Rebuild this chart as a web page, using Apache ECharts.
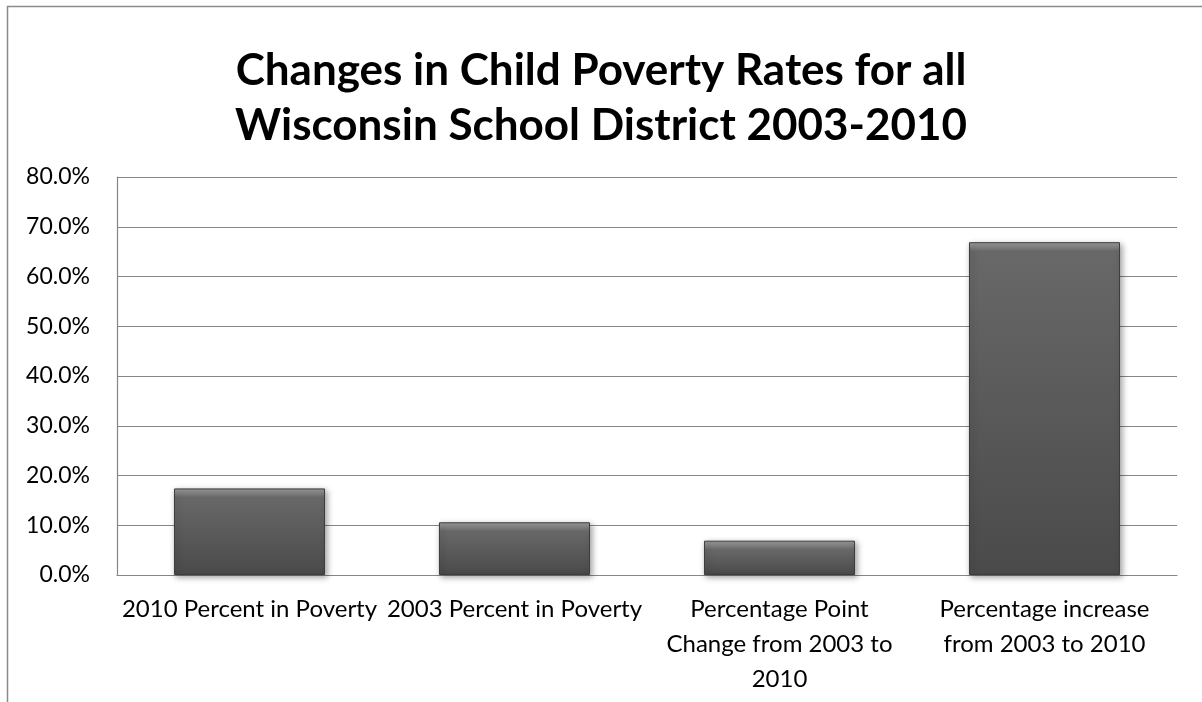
<!DOCTYPE html>
<html>
<head>
<meta charset="utf-8">
<script src="https://cdn.jsdelivr.net/npm/echarts@6/dist/echarts.min.js"></script>
<style>
html,body{margin:0;padding:0;background:#fff;}
#chart{width:1202px;height:702px;}
</style>
</head>
<body>
<div id="chart"></div>
<script>
const titleLines = ["Changes in Child Poverty Rates for all", "Wisconsin School District 2003-2010"];
const categories = [
  "2010 Percent in Poverty",
  "2003 Percent in Poverty",
  "Percentage Point\nChange from 2003 to\n2010",
  "Percentage increase\nfrom 2003 to 2010"
];
const values = [0.174, 0.106, 0.069, 0.669];
const yTicks = { min: 0, max: 0.8, interval: 0.1 };

const plotHeight = 398;
function barStyle(v) {
  const h = v / yTicks.max * plotHeight;
  const f = Math.min(0.5, 9 / h);
  return {
    color: new echarts.graphic.LinearGradient(0, 0, 0, 1, [
      { offset: 0, color: '#9a9a9a' },
      { offset: f * 0.5, color: '#858585' },
      { offset: f, color: '#686868' },
      { offset: 1, color: '#4a4a4a' }
    ]),
    borderColor: '#3c3c3c',
    borderWidth: 1,
    shadowBlur: 6,
    shadowColor: 'rgba(0,0,0,0.35)',
    shadowOffsetX: 2,
    shadowOffsetY: 2
  };
}

const chart = echarts.init(document.getElementById('chart'), null, { renderer: 'canvas' });
chart.setOption({
  backgroundColor: '#ffffff',
  animation: false,
  graphic: [{
    type: 'rect',
    shape: { x: 7.5, y: 6.5, width: 1300, height: 800 },
    style: { fill: 'none', stroke: '#8a8a8a', lineWidth: 1.5 },
    silent: true, z: -1
  }],
  title: {
    text: titleLines.join('\n'),
    left: 'center',
    top: 43,
    padding: [0, 0, 0, 18],
    textStyle: { fontFamily: 'Lato', fontWeight: 'bold', fontSize: 44, lineHeight: 55, color: '#000' }
  },
  grid: { left: 117, right: 25, top: 177, bottom: 127 },
  xAxis: {
    type: 'category',
    data: categories,
    axisLine: { show: true, lineStyle: { color: '#868686', width: 1.2 } },
    axisTick: { show: false },
    axisLabel: { color: '#000', fontFamily: 'Lato', fontSize: 24, lineHeight: 35, margin: 17, interval: 0 }
  },
  yAxis: {
    type: 'value',
    min: yTicks.min, max: yTicks.max, interval: yTicks.interval,
    axisLine: { show: true, lineStyle: { color: '#868686', width: 1.2 } },
    axisTick: { show: false },
    splitLine: { show: true, lineStyle: { color: '#868686', width: 1.2 } },
    axisLabel: {
      color: '#000', fontFamily: 'Lato', fontSize: 23, margin: 27,
      formatter: v => (v * 100).toFixed(1) + '%'
    }
  },
  series: [{
    type: 'bar',
    data: values.map(v => ({ value: v, itemStyle: barStyle(v) })),
    barWidth: '57%'
  }]
});
</script>
</body>
</html>
